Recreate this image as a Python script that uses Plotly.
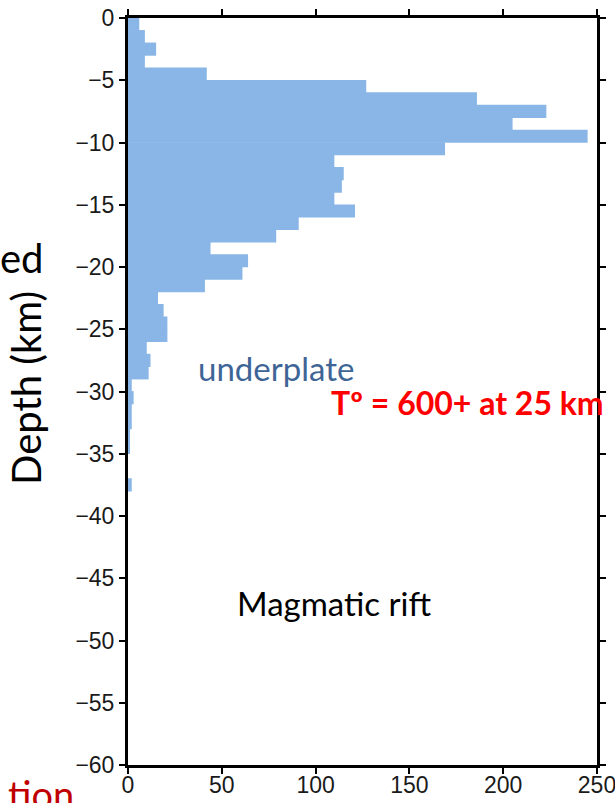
import plotly.graph_objects as go

# Earthquake counts per 1-km depth bin (bin centres, km below surface)
depth_bins = [-0.5, -1.5, -2.5, -3.5, -4.5, -5.5, -6.5, -7.5, -8.5, -9.5,
              -10.5, -11.5, -12.5, -13.5, -14.5, -15.5, -16.5, -17.5, -18.5, -19.5,
              -20.5, -21.5, -22.5, -23.5, -24.5, -25.5, -26.5, -27.5, -28.5, -29.5,
              -30.5, -31.5, -32.5, -33.5, -34.5, -35.5, -36.5, -37.5]
event_counts = [6, 9, 15, 9, 42, 127, 186, 223, 205, 245,
                169, 110, 115, 114, 110, 121, 91, 79, 44, 64,
                61, 41, 16, 19, 21, 21, 10, 12, 11, 2,
                3, 2, 2, 1, 1, 0, 0, 2]

x_ticks = [0, 50, 100, 150, 200, 250]
y_ticks = list(range(0, -61, -5))

W, H = 615, 803
ML, MR, MT, MB = 128, 18, 18, 38
pw, ph = W - ML - MR, H - MT - MB


def px(xp):
    return (xp - ML) / pw


def py(yp):
    return 1 - (yp - MT) / ph


# slightly over-wide bars so neighbouring bins join without hairline seams
fig = go.Figure(go.Bar(
    x=event_counts, y=depth_bins, orientation="h", width=1.06,
    marker=dict(color="#89b6e6", line=dict(width=0)),
    hoverinfo="x+y",
))

axis_common = dict(
    showline=True, linecolor="black", linewidth=3, mirror="ticks",
    ticks="outside", ticklen=6, tickwidth=2, tickcolor="black",
    showgrid=False, zeroline=False, automargin=False,
    ticklabeloverflow="allow",
    tickfont=dict(family="Liberation Sans, Arial, sans-serif", size=23, color="#1a1a1a"),
)

fig.update_layout(
    width=W, height=H,
    margin=dict(l=ML, r=MR, t=MT, b=MB, autoexpand=False),
    paper_bgcolor="white", plot_bgcolor="white",
    showlegend=False,
    xaxis=dict(range=[0, 250], tickvals=x_ticks, ticklabelstandoff=-9, **axis_common),
    yaxis=dict(range=[-60, 0], tickvals=y_ticks, **axis_common),
)

lato = "Lato, Open Sans, sans-serif"
annotations = [
    dict(text="underplate", x=79, y=-28.1, xref="x", yref="y",
         font=dict(family=lato, size=33, color="#3f6597")),
    dict(text="T\u00ba = 600+ at 25 km", x=107, y=-30.9, xref="x", yref="y", xanchor="left",
         font=dict(family=lato, size=32, color="#ff0000", weight="bold")),
    dict(text="Magmatic rift", x=110, y=-47.0, xref="x", yref="y",
         font=dict(family=lato, size=33, color="black")),
    dict(text="Depth (km)", x=px(26), y=py(388), xref="paper", yref="paper",
         textangle=-90, font=dict(family=lato, size=40, color="black")),
    dict(text="ed", x=px(46), y=py(258), xref="paper", yref="paper", xanchor="right",
         font=dict(family=lato, size=40, color="black")),
    dict(text="tion", x=px(76), y=py(769), xref="paper", yref="paper", xanchor="right",
         yanchor="top", font=dict(family=lato, size=38, color="#c00000")),
]
for a in annotations:
    a.setdefault("showarrow", False)
    a.setdefault("xanchor", "center")
    a.setdefault("yanchor", "middle")
fig.update_layout(annotations=annotations)

fig.write_html("out.html")
